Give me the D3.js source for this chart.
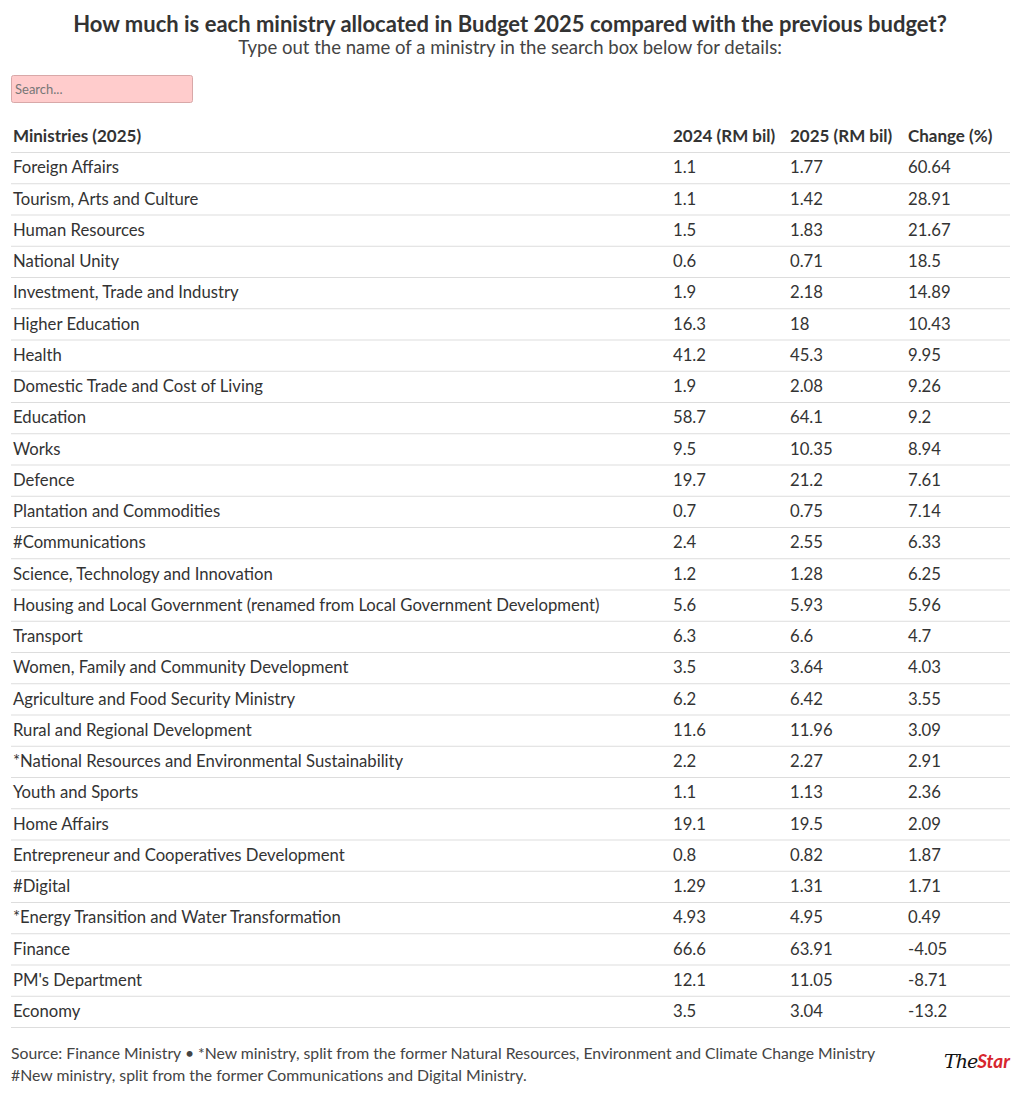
<!DOCTYPE html>
<html><head><meta charset="utf-8">
<script src="https://cdn.jsdelivr.net/npm/d3@7"></script>
<style>
body{margin:0;background:#fff;}
svg text{font-family:"Source Sans Pro","Lato","Noto Sans",sans-serif;}
</style></head>
<body><svg id="c" width="1020" height="1097"></svg>
<script>
const title = "How much is each ministry allocated in Budget 2025 compared with the previous budget?";
const subtitle = "Type out the name of a ministry in the search box below for details:";
const headers = ["Ministries (2025)", "2024 (RM bil)", "2025 (RM bil)", "Change (%)"];
const ministries = ["Foreign Affairs","Tourism, Arts and Culture","Human Resources","National Unity","Investment, Trade and Industry","Higher Education","Health","Domestic Trade and Cost of Living","Education","Works","Defence","Plantation and Commodities","#Communications","Science, Technology and Innovation","Housing and Local Government (renamed from Local Government Development)","Transport","Women, Family and Community Development","Agriculture and Food Security Ministry","Rural and Regional Development","*National Resources and Environmental Sustainability","Youth and Sports","Home Affairs","Entrepreneur and Cooperatives Development","#Digital","*Energy Transition and Water Transformation","Finance","PM's Department","Economy"];
const values2024 = ["1.1","1.1","1.5","0.6","1.9","16.3","41.2","1.9","58.7","9.5","19.7","0.7","2.4","1.2","5.6","6.3","3.5","6.2","11.6","2.2","1.1","19.1","0.8","1.29","4.93","66.6","12.1","3.5"];
const values2025 = ["1.77","1.42","1.83","0.71","2.18","18","45.3","2.08","64.1","10.35","21.2","0.75","2.55","1.28","5.93","6.6","3.64","6.42","11.96","2.27","1.13","19.5","0.82","1.31","4.95","63.91","11.05","3.04"];
const changes = ["60.64","28.91","21.67","18.5","14.89","10.43","9.95","9.26","9.2","8.94","7.61","7.14","6.33","6.25","5.96","4.7","4.03","3.55","3.09","2.91","2.36","2.09","1.87","1.71","0.49","-4.05","-8.71","-13.2"];
const footer1 = "Source: Finance Ministry \u2022 *New ministry, split from the former Natural Resources, Environment and Climate Change Ministry";
const footer2 = "#New ministry, split from the former Communications and Digital Ministry.";

const svg = d3.select("#c");
function fit(sel, w){
  const n = sel.node(); const cur = n.getComputedTextLength();
  const fs = parseFloat(sel.attr("font-size"));
  sel.attr("font-size", fs * w / cur);
}
const t = svg.append("text").attr("x",510).attr("y",32).attr("text-anchor","middle")
  .attr("font-size",22).attr("font-weight","bold").attr("fill","#333").text(title);
fit(t, 874);
const st = svg.append("text").attr("x",510).attr("y",54).attr("text-anchor","middle")
  .attr("font-size",18).attr("fill","#444").text(subtitle);
fit(st, 544);

svg.append("rect").attr("x",11.5).attr("y",75.5).attr("width",181).attr("height",27).attr("rx",2)
  .attr("fill","#ffcccc").attr("stroke","#d8a8a8");
svg.append("text").attr("x",15).attr("y",94).attr("font-size",13).attr("fill","#777").text("Search...");

const cols = d3.scaleOrdinal().domain([0,1,2,3]).range([13,673,790,908]);
const y = d3.scaleBand().domain(d3.range(ministries.length)).range([152,1027]);

const hdr = svg.append("g");
headers.forEach((h,i)=>{
  hdr.append("text").attr("x",cols(i)).attr("y",142).attr("font-size",17).attr("font-weight","bold").attr("fill","#333").text(h);
});
svg.append("line").attr("x1",11).attr("x2",1010).attr("y1",152.5).attr("y2",152.5).attr("stroke","#ddd");

const rows = svg.selectAll("g.row").data(ministries.map((m,i)=>[m,values2024[i],values2025[i],changes[i]]))
  .join("g").attr("class","row").attr("transform",(d,i)=>`translate(0,${y(i)})`);
rows.append("line").attr("x1",11).attr("x2",1010).attr("y1",y.bandwidth()+0.5).attr("y2",y.bandwidth()+0.5).attr("stroke","#ddd");
rows.selectAll("text").data(d=>d).join("text")
  .attr("x",(d,i)=>cols(i)).attr("y",y.bandwidth()/2).attr("dy","0.35em")
  .attr("font-size",16.7).attr("fill","#333").text(d=>d);

const f1 = svg.append("text").attr("x",11).attr("y",1059).attr("font-size",15).attr("fill","#444").text(footer1);
fit(f1, 865);
const f2 = svg.append("text").attr("x",11).attr("y",1081).attr("font-size",15).attr("fill","#444").text(footer2);
fit(f2, 516);

const logo = svg.append("text").attr("x",1010).attr("y",1068).attr("text-anchor","end").attr("font-size",19).attr("font-style","italic").attr("font-weight","bold");
logo.append("tspan").attr("fill","#111").attr("font-family","DejaVu Serif").attr("font-weight","normal").attr("letter-spacing",-1).text("The");
logo.append("tspan").attr("fill","#d7262e").text("Star");
</script></body></html>
